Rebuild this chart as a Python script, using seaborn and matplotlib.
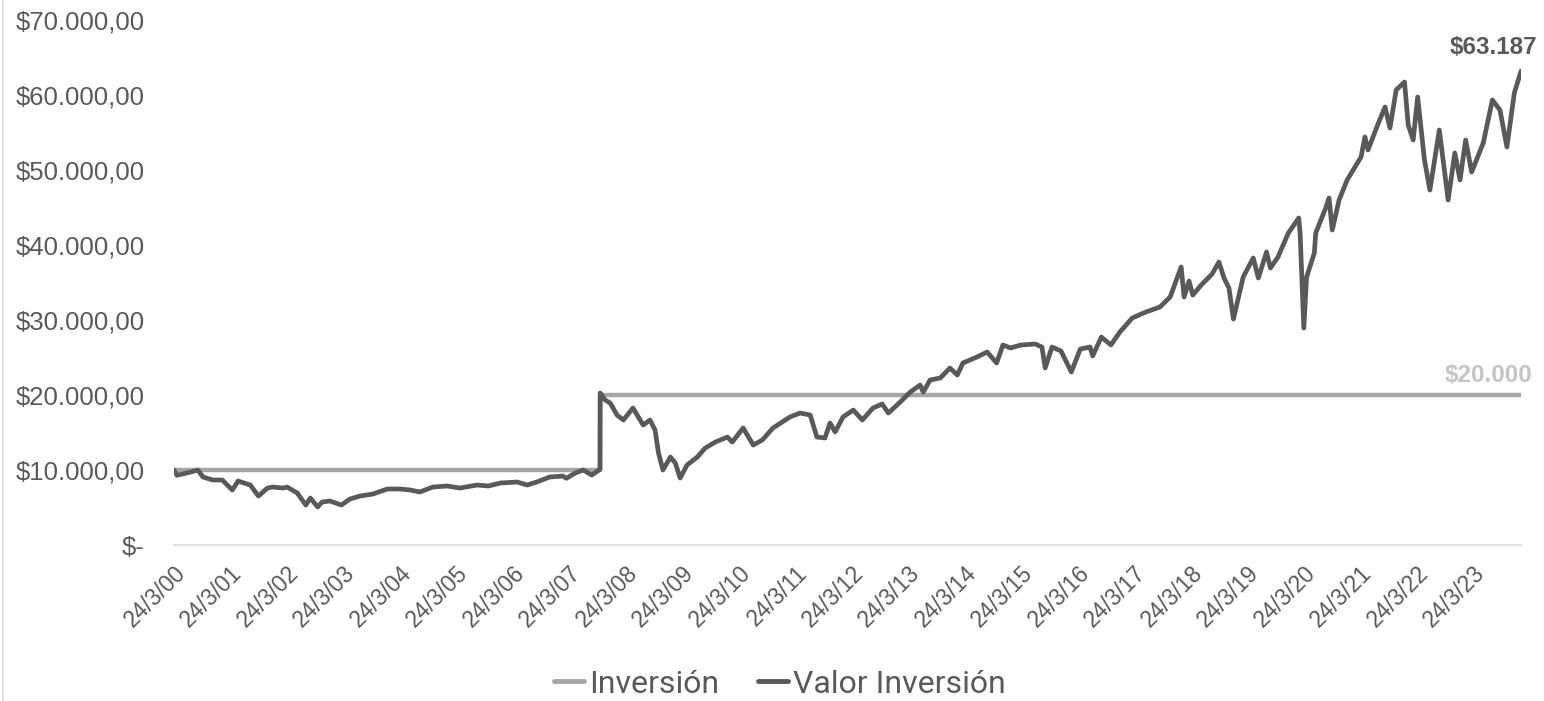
import matplotlib
matplotlib.use("Agg")
import matplotlib.pyplot as plt
from matplotlib.lines import Line2D
import pandas as pd
import seaborn as sns

# Valor Inversión
valor_fechas = [
    "2000-03-24", "2000-04-12", "2000-07-05", "2000-08-25", "2000-09-27", "2000-12-01",
    "2001-01-30", "2001-04-05", "2001-05-12", "2001-07-30", "2001-09-21", "2001-11-18",
    "2001-12-24", "2002-02-28", "2002-03-25", "2002-05-30", "2002-07-24", "2002-08-22",
    "2002-10-09", "2002-11-06", "2002-12-27", "2003-03-11", "2003-05-05", "2003-07-09",
    "2003-10-01", "2004-01-02", "2004-03-26", "2004-05-30", "2004-07-30", "2004-10-23",
    "2005-01-22", "2005-04-16", "2005-08-04", "2005-10-16", "2006-01-02", "2006-04-20",
    "2006-06-24", "2006-08-25", "2006-11-17", "2007-02-09", "2007-03-05", "2007-05-01",
    "2007-06-21", "2007-08-16", "2007-10-01", "2007-10-08", "2007-10-09", "2007-11-10",
    "2007-12-13", "2008-01-26", "2008-03-07", "2008-05-08", "2008-07-13", "2008-08-26",
    "2008-09-28", "2008-10-20", "2008-11-18", "2009-01-05", "2009-02-06", "2009-03-09",
    "2009-04-23", "2009-06-28", "2009-08-18", "2009-10-23", "2010-01-08", "2010-02-09",
    "2010-04-20", "2010-06-25", "2010-08-22", "2010-10-30", "2011-02-17", "2011-04-23",
    "2011-06-28", "2011-08-10", "2011-10-01", "2011-11-03", "2011-12-06", "2012-01-26",
    "2012-04-01", "2012-05-30", "2012-08-07", "2012-10-05", "2012-11-14", "2013-01-30",
    "2013-04-05", "2013-06-07", "2013-06-28", "2013-08-11", "2013-10-16", "2013-12-17",
    "2014-02-03", "2014-03-11", "2014-06-10", "2014-08-15", "2014-10-15", "2014-11-25",
    "2015-01-12", "2015-03-22", "2015-06-21", "2015-08-04", "2015-08-25", "2015-10-08",
    "2015-12-05", "2016-02-10", "2016-04-08", "2016-06-10", "2016-06-27", "2016-08-22",
    "2016-10-23", "2016-12-20", "2017-03-10", "2017-06-06", "2017-09-05", "2017-11-10",
    "2018-01-20", "2018-02-08", "2018-03-12", "2018-04-05", "2018-05-30", "2018-08-08",
    "2018-09-21", "2018-10-24", "2018-11-25", "2018-12-24", "2019-02-25", "2019-05-01",
    "2019-06-03", "2019-07-26", "2019-08-20", "2019-10-08", "2019-12-14", "2020-02-19",
    "2020-02-28", "2020-03-23", "2020-04-10", "2020-05-30", "2020-06-08", "2020-08-14",
    "2020-09-02", "2020-09-23", "2020-11-06", "2020-12-28", "2021-03-28", "2021-04-22",
    "2021-05-12", "2021-07-08", "2021-08-30", "2021-10-01", "2021-11-10", "2022-01-03",
    "2022-01-27", "2022-02-28", "2022-03-29", "2022-05-12", "2022-06-16", "2022-08-16",
    "2022-10-12", "2022-11-24", "2022-12-28", "2023-02-02", "2023-03-13", "2023-05-27",
    "2023-07-25", "2023-09-12", "2023-10-27", "2023-12-14", "2024-01-26",
]
valor = [
    10000, 9300, 9700, 10000, 9070, 8670,
    8670, 7330, 8530, 8000, 6530, 7600,
    7730, 7600, 7730, 6930, 5330, 6270,
    5070, 5730, 5870, 5330, 6130, 6530,
    6800, 7470, 7470, 7330, 7070, 7730,
    7870, 7600, 8000, 7870, 8270, 8400,
    8000, 8400, 9070, 9200, 8900, 9600,
    10000, 9330, 10000, 10050, 20270, 19330,
    18930, 17330, 16670, 18270, 16000, 16670,
    15330, 12270, 10000, 11730, 10930, 8930,
    10670, 11730, 12930, 13730, 14400, 13730,
    15600, 13330, 14000, 15600, 17070, 17600,
    17330, 14400, 14270, 16270, 15070, 17070,
    18000, 16670, 18270, 18800, 17600, 19070,
    20400, 21330, 20400, 22000, 22270, 23600,
    22670, 24270, 25070, 25730, 24270, 26670,
    26270, 26670, 26800, 26400, 23600, 26400,
    25870, 23070, 26130, 26400, 25200, 27730,
    26670, 28400, 30270, 31070, 31730, 33070,
    37070, 33070, 35200, 33330, 34670, 36130,
    37730, 35600, 34270, 30130, 35730, 38270,
    35600, 39070, 36930, 38400, 41600, 43600,
    41600, 28930, 35730, 38930, 41600, 45070,
    46270, 42000, 46000, 48670, 51730, 54400,
    52670, 55730, 58400, 55600, 60670, 61730,
    56000, 54000, 59730, 51330, 47330, 55330,
    46000, 52270, 48670, 54000, 49730, 53600,
    59330, 58000, 53070, 60270, 63187,
]

# Inversión (capital aportado)
inversion_fechas = ["2000-03-24", "2007-10-08", "2007-10-09", "2024-01-26"]
inversion = [10000, 10000, 20000, 20000]

tick_fechas = ["2000-03-24", "2001-03-24", "2002-03-24", "2003-03-24", "2004-03-24",
               "2005-03-24", "2006-03-24", "2007-03-24", "2008-03-24", "2009-03-24",
               "2010-03-24", "2011-03-24", "2012-03-24", "2013-03-24", "2014-03-24",
               "2015-03-24", "2016-03-24", "2017-03-24", "2018-03-24", "2019-03-24",
               "2020-03-24", "2021-03-24", "2022-03-24", "2023-03-24"]
tick_labels = ["24/3/00", "24/3/01", "24/3/02", "24/3/03", "24/3/04", "24/3/05",
               "24/3/06", "24/3/07", "24/3/08", "24/3/09", "24/3/10", "24/3/11",
               "24/3/12", "24/3/13", "24/3/14", "24/3/15", "24/3/16", "24/3/17",
               "24/3/18", "24/3/19", "24/3/20", "24/3/21", "24/3/22", "24/3/23"]
y_ticks = [0, 10000, 20000, 30000, 40000, 50000, 60000, 70000]
y_labels = ["$-", "$10.000,00", "$20.000,00", "$30.000,00", "$40.000,00",
            "$50.000,00", "$60.000,00", "$70.000,00"]

GRIS_OSCURO = "#595959"
GRIS_CLARO = "#A5A5A5"

sns.set_style("white")
plt.rcParams["font.family"] = ["Liberation Sans", "DejaVu Sans"]

df_valor = pd.DataFrame({"fecha": pd.to_datetime(valor_fechas), "valor": valor})
df_inv = pd.DataFrame({"fecha": pd.to_datetime(inversion_fechas), "valor": inversion})

fig = plt.figure(figsize=(15.44, 7.01), dpi=100)
ax = fig.add_axes([0.1127, 0.2225, 0.8724, 0.749])

sns.lineplot(data=df_inv, x="fecha", y="valor", ax=ax, color=GRIS_CLARO,
             linewidth=3.2, label="Inversión")
sns.lineplot(data=df_valor, x="fecha", y="valor", ax=ax, color=GRIS_OSCURO,
             linewidth=3.4, label="Valor Inversión")

ax.set_xlim(pd.Timestamp("2000-03-24"), pd.Timestamp("2024-01-26"))
ax.set_ylim(0, 70000)
ax.set_xlabel("")
ax.set_ylabel("")

ax.set_xticks(pd.to_datetime(tick_fechas))
ax.set_xticklabels(tick_labels, rotation=45, ha="right", rotation_mode="anchor",
                   fontsize=16.5, color=GRIS_OSCURO)
ax.set_yticks(y_ticks)
ax.set_yticklabels(y_labels, fontsize=18.5, color=GRIS_OSCURO)
ax.tick_params(axis="y", length=0, pad=21)
ax.tick_params(axis="x", length=7, width=1, color="#D9D9D9", pad=5, direction="out")

for side in ["top", "right", "left"]:
    ax.spines[side].set_visible(False)
ax.spines["bottom"].set_color("#D9D9D9")
ax.spines["bottom"].set_linewidth(1.2)

ax.annotate("$63.187", xy=(df_valor["fecha"].iloc[-1], valor[-1]),
            xytext=(12, 17), textcoords="offset points", ha="right", va="center",
            fontsize=17.5, fontweight="bold", color=GRIS_OSCURO)
ax.annotate("$20.000", xy=(df_inv["fecha"].iloc[-1], inversion[-1]),
            xytext=(8, 14), textcoords="offset points", ha="right", va="center",
            fontsize=17.5, fontweight="bold", color="#C4C4C4")

leg = ax.legend(loc="center", bbox_to_anchor=(0.505, 0.024),
                bbox_transform=fig.transFigure, ncol=2, frameon=False,
                handlelength=0.95, handletextpad=0.15, columnspacing=1.2,
                prop={"family": "Roboto", "size": 23})
for line in leg.get_lines():
    line.set_linewidth(3.5)
for t in leg.get_texts():
    t.set_color(GRIS_OSCURO)

fig.add_artist(Line2D([0.002, 0.002], [0, 1], transform=fig.transFigure,
                      color="#D9D9D9", linewidth=1.2))

fig.savefig("out.png", dpi=100, facecolor="white")
